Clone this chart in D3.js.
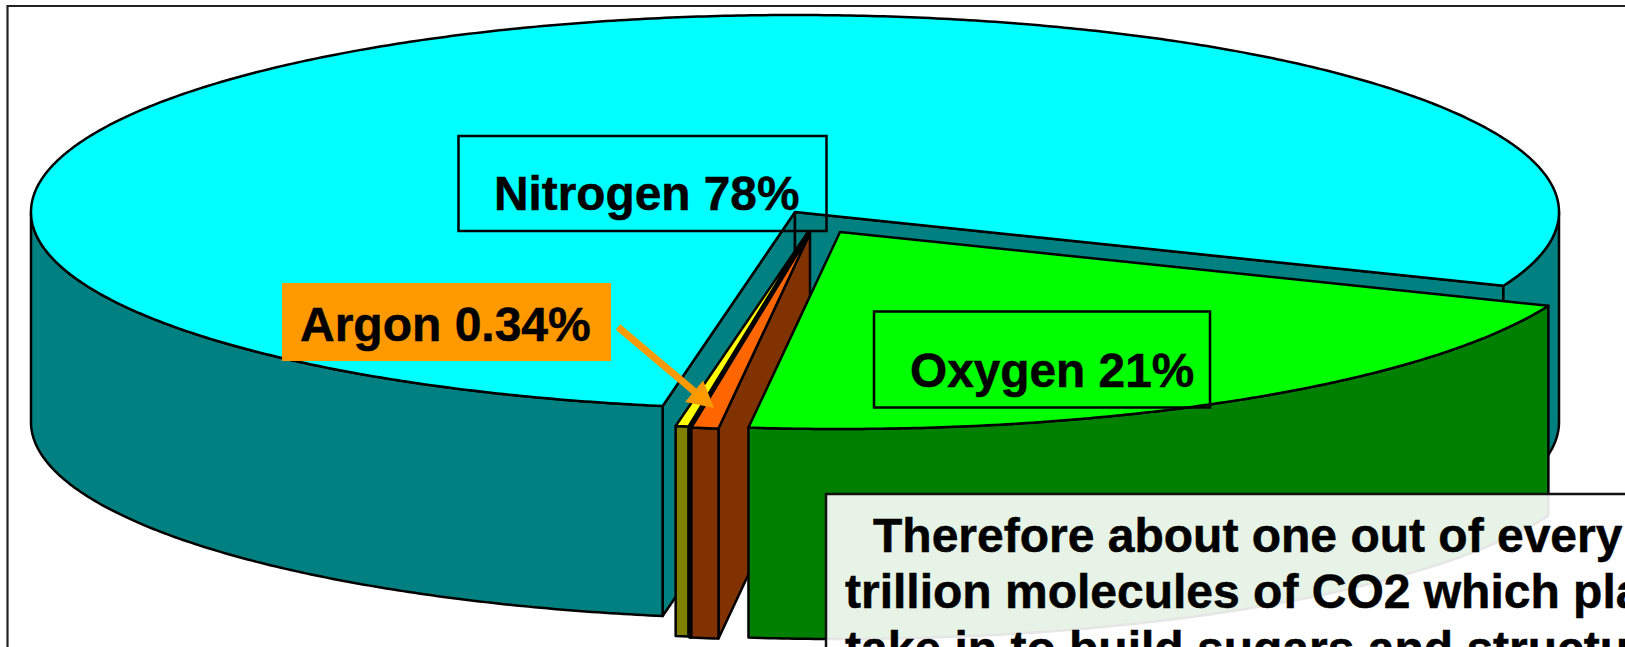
<!DOCTYPE html>
<html><head><meta charset="utf-8">
<script src="https://cdn.jsdelivr.net/npm/d3@7"></script>
<style>html,body{margin:0;padding:0;background:#fff;overflow:hidden}svg{display:block}</style>
</head><body><div id="chart"></div>
<script>
// Data (shares read from the drawn wedges, clockwise from the oxygen edge)
const categories = ["Oxygen","Argon","Trace gases","Other","Nitrogen"];
const shares = [20.8,0.57,0.02,0.27,78.34];
const topColors = ["#00ff00","#ff6600","#000000","#ffff00","#00ffff"];
const sideColors = ["#008000","#803300","#000000","#808000","#008080"];
const pieStartDeg = 112;
const labels = ["Nitrogen 78%","Oxygen 21%","Argon 0.34%"];
const noteLines = ["Therefore about one out of every","trillion molecules of CO2 which plants","take in to build sugars and structures"];

// Layout
const W=1625,H=647,RX=764,RY=197,DEPTH=210;
const base={x:795,y:212};
const offsets={Oxygen:[45,20],Argon:[15,21],"Trace gases":[14,21],Other:[13,20],Nitrogen:[0,0]};

const svg=d3.select("#chart").append("svg").attr("width",W).attr("height",H);
svg.append("path").attr("d","M7.5,647V6H1625").attr("fill","none").attr("stroke","#222").attr("stroke-width",2.2);

const deg=Math.PI/180;
const pie=d3.pie().sort(null).value(d=>d).startAngle(pieStartDeg*deg).endAngle((pieStartDeg+360)*deg);
const arcs=pie(shares).map((a,i)=>({...a,name:categories[i],top:topColors[i],side:sideColors[i]}));
const sx=d3.scaleLinear().domain([-1,1]).range([-RX,RX]);
const sy=d3.scaleLinear().domain([-1,1]).range([-RY,RY]);
const pt=(c,t,dz=0)=>[c.x+sx(Math.sin(t)),c.y-sy(Math.cos(t))+dz];
const line=d3.line();
function arcPts(c,a0,a1,dz=0){
  const n=Math.max(2,Math.ceil(Math.abs(a1-a0)/(0.5*deg)));
  return d3.range(n+1).map(i=>pt(c,a0+(a1-a0)*i/n,dz));
}
function poly(pts,fill){
  svg.append("path").attr("d",line(pts)+"Z").attr("fill",fill).attr("stroke","#000").attr("stroke-width",2.5).attr("stroke-linejoin","round");
}
function wall(c,t,fill){
  const p=pt(c,t);
  poly([[c.x,c.y],p,[p[0],p[1]+DEPTH],[c.x,c.y+DEPTH]],fill);
}
function rim(c,a0,a1,fill){
  const top=arcPts(c,a0,a1), bot=arcPts(c,a1,a0,DEPTH);
  poly(top.concat(bot),fill);
}
function sector(c,a0,a1,fill){
  poly([[c.x,c.y]].concat(arcPts(c,a0,a1)),fill);
}
const center=d=>{const o=offsets[d.name];return {x:base.x+o[0],y:base.y+o[1]};};

// Back to front: nitrogen, then the slim wedges from left to right, then oxygen
const order=["Nitrogen","Other","Trace gases","Argon","Oxygen"];
order.forEach(name=>{
  const d=arcs.find(a=>a.name===name), c=center(d);
  if(name==="Nitrogen"){
    wall(c,d.startAngle,d.side);
    wall(c,d.endAngle,d.side);
    rim(c,d.startAngle,270*deg,d.side);            // left-front rim
    rim(c,d.endAngle-360*deg,90*deg,d.side);       // right rim, behind the notch
  } else {
    if(name!=="Oxygen") wall(c,d.startAngle,d.side);
    rim(c,d.startAngle,d.endAngle,d.side);
  }
  sector(c,d.startAngle,d.endAngle,d.top);
});

// Boxes and labels
const FONT="'Liberation Sans',Arial,sans-serif";
const txt=(s,x,y,size)=>svg.append("text").attr("x",x).attr("y",y).attr("font-family",FONT).attr("font-weight",700).attr("font-size",size).attr("fill","#000").attr("stroke","#000").attr("stroke-width",0.5).text(s);
svg.append("rect").attr("x",458.5).attr("y",136).attr("width",368).attr("height",95).attr("fill","none").attr("stroke","#000").attr("stroke-width",2.5);
txt(labels[0],494,210,47.8);
svg.append("rect").attr("x",874).attr("y",311.5).attr("width",336).attr("height",96).attr("fill","none").attr("stroke","#000").attr("stroke-width",2.5);
txt(labels[1],910,387,47.8);
svg.append("rect").attr("x",282).attr("y",283).attr("width",329).attr("height",78).attr("fill","#ff9900");
txt(labels[2],300,341,48);
// Arrow
const ax0=618,ay0=327,ax1=714,ay1=408;
const ang=Math.atan2(ay1-ay0,ax1-ax0);
svg.append("line").attr("x1",ax0).attr("y1",ay0).attr("x2",ax1-12*Math.cos(ang)).attr("y2",ay1-12*Math.sin(ang)).attr("stroke","#ff9900").attr("stroke-width",7);
const hw=14,hl=26;
const bx=ax1-hl*Math.cos(ang),by=ay1-hl*Math.sin(ang);
svg.append("path").attr("d",line([[ax1,ay1],[bx-hw*Math.sin(ang),by+hw*Math.cos(ang)],[bx+hw*Math.sin(ang),by-hw*Math.cos(ang)]])+"Z").attr("fill","#ff9900");

// Note box
svg.append("rect").attr("x",826).attr("y",494).attr("width",900).attr("height",300).attr("fill","#fff").attr("fill-opacity",0.9).attr("stroke","#111").attr("stroke-width",2.5);
const noteX=[873,845,845], noteY=[552,608,665];
noteLines.forEach((s,i)=>txt(s,noteX[i],noteY[i],48));
</script></body></html>
